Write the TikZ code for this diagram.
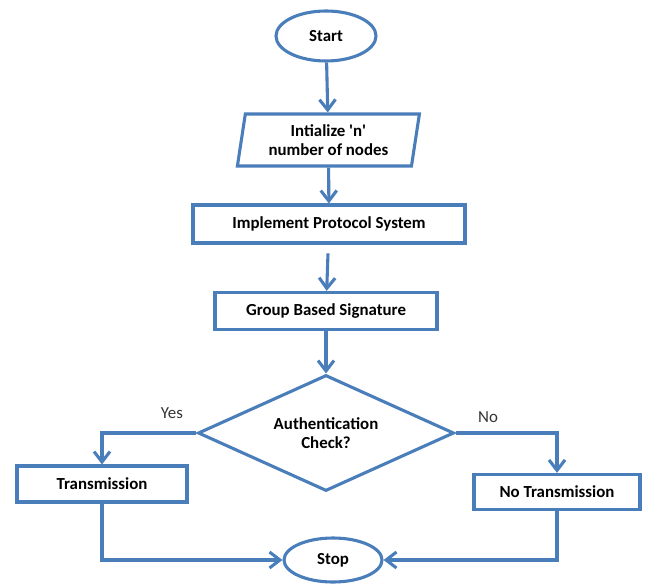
\documentclass[tikz,border=0pt]{standalone}
\usepackage{fontspec}
\setmainfont{Carlito}
\usetikzlibrary{shapes.geometric,arrows.meta}
\definecolor{flowblue}{RGB}{74,126,187}
\tikzstyle{base} = [draw=flowblue, line width=2.2pt, font=\bfseries\fontsize{12}{14}\selectfont, align=center, inner sep=2pt]
\tikzstyle{startstop} = [base, ellipse]
\tikzstyle{io} = [base, trapezium, trapezium left angle=78, trapezium right angle=102, trapezium stretches body]
\tikzstyle{process} = [base, rectangle]
\tikzstyle{decision} = [base, diamond, aspect=2.2, inner sep=0pt]
\tikzstyle{line} = [draw=flowblue, line width=2.2pt, -{Straight Barb[length=2.6mm,width=4mm]}]
\tikzstyle{answer} = [font=\fontsize{12}{14}\selectfont, text=black!80]

\begin{document}
\begin{tikzpicture}
	  \useasboundingbox (0,0) rectangle (16.15,-14.675);
	  \node (start) at (8.15,-0.9) [startstop, minimum width=2.5cm, minimum height=1.25cm] {Start};
	  \node (init) at (8.21,-3.5) [io, minimum width=4.55cm, minimum height=1.3cm] {Intialize \textquotesingle n\textquotesingle\\number of nodes};
	  \node (impl) at (8.225,-5.6) [process, minimum width=6.8cm, minimum height=0.95cm] {Implement Protocol System};
	  \node (group) at (8.15,-7.775) [process, minimum width=5.55cm, minimum height=0.93cm] {Group Based Signature};
	  \node (check) at (8.15,-10.825) [decision, minimum width=6.4cm, minimum height=2.9cm] {Authentication\\Check?};
	  \node (trans) at (2.55,-12.1) [process, minimum width=4.25cm, minimum height=0.9cm] {Transmission};
	  \node (notrans) at (13.925,-12.3) [process, minimum width=4.15cm, minimum height=0.88cm] {No Transmission};
	  \node (stop) at (8.325,-14.0) [startstop, minimum width=2.45cm, minimum height=1.1cm] {Stop};

	  \draw [line] (start) to (init);
	  \draw [line] (init) to (impl);
	  \draw [line, shorten <=0.22cm] (impl) to (group);
	  \draw [line] (group) to (check);
	  \draw [line] (check.west) -| node [answer, pos=0.13, above=0.2cm] {Yes} (trans.north);
	  \draw [line] (check.east) -| node [answer, pos=0.16, above=0.1cm] {No} (notrans.north);
	  \draw [line] (trans.south) |- (stop.west);
	  \draw [line] (notrans.south) |- (stop.east);
	\end{tikzpicture}
\end{document}
